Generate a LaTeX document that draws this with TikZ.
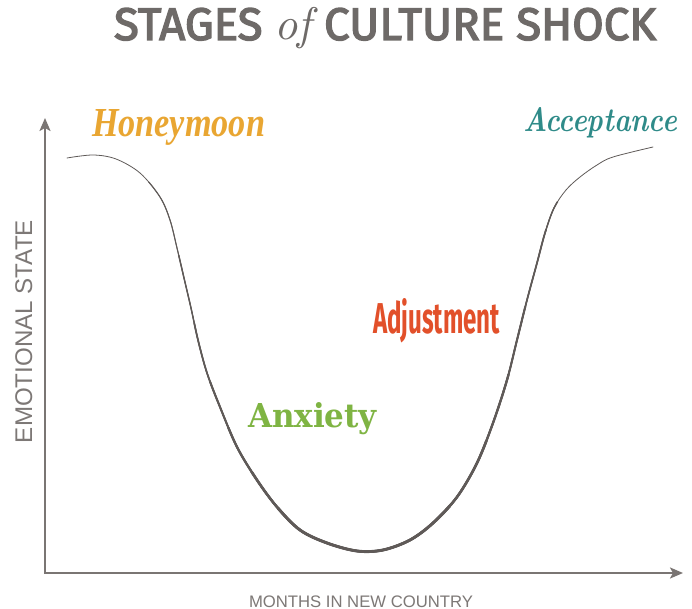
\documentclass[tikz,border=0pt]{standalone}
\usepackage{fontspec}
\usepackage{graphicx}
\usetikzlibrary{arrows.meta}
\newfontfamily\titlef{Fira Sans}[FakeBold=3]
\newfontfamily\labf{Liberation Sans}
\newfontfamily\scriptf{Liberation Serif}
\newfontfamily\slabf{DejaVu Serif}
\newfontfamily\condf{Fira Sans}
\newfontfamily\lmf{Latin Modern Roman}
\definecolor{titlegray}{HTML}{6E6A68}
\definecolor{axisgray}{HTML}{7A7573}
\definecolor{curvegray}{HTML}{5F5A58}
\definecolor{labgray}{HTML}{7D7876}
\definecolor{honey}{HTML}{E9A632}
\definecolor{accept}{HTML}{2F8B89}
\definecolor{adjust}{HTML}{E2502A}
\definecolor{anx}{HTML}{7FB443}
\tikzset{
  lbl/.style={inner sep=0pt, outer sep=0pt, anchor=base west},
  axisline/.style={draw=axisgray, line width=2.2pt, {Stealth[length=13pt,width=11pt,inset=3pt]}-{Stealth[length=13pt,width=11pt,inset=3pt]}},
  curveline/.style={draw=curvegray, line join=round},
  seg/.style 2 args={curveline, dash pattern={on 0pt off #1pt on #2pt off 3000pt}}
}
\def\cshape{plot[smooth, tension=0.55] coordinates {(67,158) (93,155) (116,159) (140,173) (160,197) (170,220) (177,248) (184,278) (191,308) (198,340) (207,373) (220,407) (237,447) (257,480) (277,507) (300,530) (327,543) (357,551) (383,550) (410,540) (433,523) (457,497) (477,463) (493,423) (507,380) (517,340) (527,300) (537,263) (545,233) (554,208) (566,190) (580,177) (597,165) (613,157) (653,147)}}
\begin{document}
\begin{tikzpicture}[x=1pt,y=-1pt]
\useasboundingbox[fill=white] (0,0) rectangle (692,609);
% title
\node[lbl, text=titlegray] (title) at (114,40)
  {\resizebox{542pt}{!}{\titlef STAGES {\lmf\itshape of} CULTURE SHOCK}};
% axes
\coordinate (ytip) at (45,118);
\coordinate (origin) at (45,573);
\coordinate (xtip) at (683,573);
\draw[axisline] (ytip) -- (origin) -- (xtip);
% axis labels
\node[lbl, rotate=90, text=labgray] (ylab) at (32,443)
  {\resizebox{223pt}{!}{\labf EMOTIONAL STATE}};
\node[lbl, text=labgray] (xlab) at (249,607)
  {\resizebox{224pt}{!}{\labf MONTHS IN NEW COUNTRY}};
% curve with tapering stroke (same path, thicker in the middle)
\draw[curveline, line width=0.8pt, line cap=round] \cshape;
\draw[seg={90}{880}, line width=1.1pt] \cshape;
\draw[seg={170}{800}, line width=1.4pt] \cshape;
\draw[seg={240}{700}, line width=1.7pt] \cshape;
\draw[seg={300}{560}, line width=2.0pt] \cshape;
\draw[seg={350}{440}, line width=2.3pt] \cshape;
\draw[seg={400}{320}, line width=2.6pt] \cshape;
\draw[seg={445}{200}, line width=2.9pt] \cshape;
% stage labels
\node[lbl, text=honey] (honeymoon) at (92,137)
  {\resizebox{173pt}{27pt}{\scriptf\bfseries\itshape Honeymoon}};
\node[lbl, text=accept] (acceptance) at (523,132)
  {\resizebox{154pt}{24pt}{\lmf\bfseries\itshape Acceptance}};
\node[lbl, text=adjust] (adjustment) at (373,333)
  {\resizebox{127pt}{35pt}{\condf\bfseries Adjustment}};
\node[lbl, text=anx] (anxiety) at (248,427)
  {\resizebox{129pt}{25pt}{\slabf\bfseries Anxiety}};
\end{tikzpicture}
\end{document}
